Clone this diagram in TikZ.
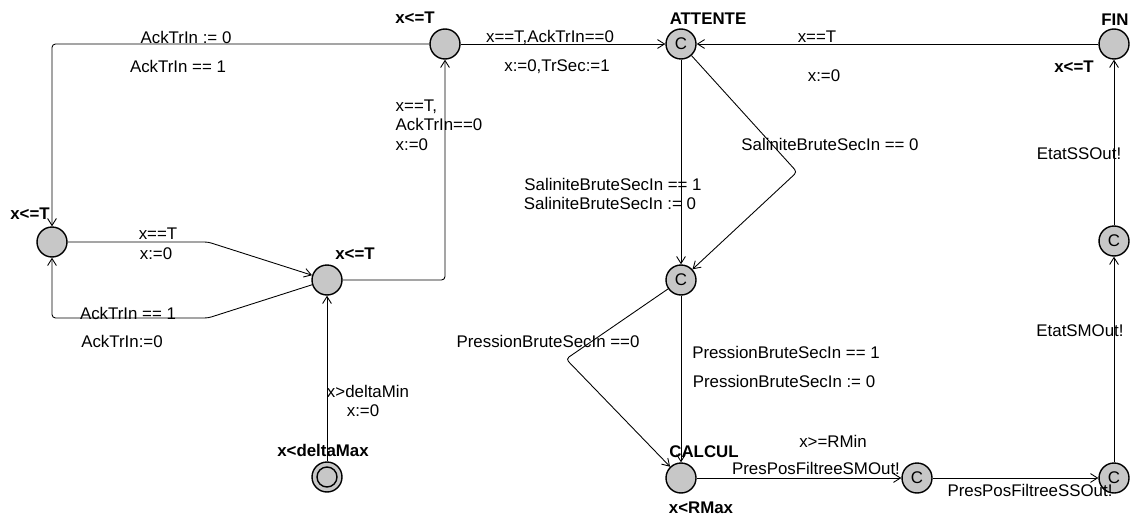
\documentclass[tikz,border=0pt]{standalone}
\usepackage{fontspec}
\setmainfont{Liberation Sans}
\usepackage{xcolor}
\usepackage{tikz}
\usetikzlibrary{arrows.meta}

\begin{document}
\begin{tikzpicture}[x=0.02cm, y=-0.02cm,
    every node/.style={font=\fontsize{9.6}{11}\selectfont},
    loc/.style={circle, draw, line width=0.8pt, fill=black!22, minimum size=0.6cm, inner sep=0pt},
    tag/.style={font=\bfseries\fontsize{9.6}{11}\selectfont},
    edge/.style={-{Straight Barb[length=4pt,width=5pt]}, rounded corners=2pt, line width=0.5pt}]
    \useasboundingbox (0,0) rectangle (1131,517);

    % Locations
    \node[loc] (top) at (445,44) {};
    \node[loc] (lft) at (52,242) {};
    \node[loc] (mid) at (327,280) {};
    \node[loc] (init) at (327,477) {};
    \node[circle, draw, line width=0.8pt, minimum size=0.4cm, inner sep=0pt] (initin) at (init) {};
    \node[loc] (attente) at (681,44) {C};
    \node[loc] (fin) at (1114,44) {};
    \node[loc] (sal) at (681,280) {C};
    \node[loc] (calcul) at (681,478) {};
    \node[loc] (sm) at (917,478) {C};
    \node[loc] (ss) at (1114,478) {C};
    \node[loc] (etat) at (1114,241) {C};

    % Names and invariants
    \node[tag] (invtop) at (415,18) {x<=T};
    \node[tag] (invlft) at (30,214) {x<=T};
    \node[tag] (invmid) at (355,254) {x<=T};
    \node[tag] (invinit) at (323,450) {x<deltaMax};
    \node[tag] (nattente) at (708,19) {ATTENTE};
    \node[tag] (nfin) at (1115,20) {FIN};
    \node[tag] (invfin) at (1074,67) {x<=T};
    \node[tag] (ncalcul) at (704,452) {CALCUL};
    \node[tag] (invcalcul) at (701,508) {x<RMax};

    % Bends
    \coordinate (bnd1) at (208,242);
    \coordinate (bnd2) at (208,318);
    \coordinate (bnd3) at (797,172);
    \coordinate (bnd4) at (566,359);

    % Edges
    \draw[edge] (top) -| (lft);
    \draw[edge] (lft) -- (bnd1) -- (mid);
    \draw[edge] (mid) -- (bnd2) -| (lft);
    \draw[edge] (mid) -| (top);
    \draw[edge] (init) -- (mid);
    \draw[edge] (top) -- (attente);
    \draw[edge] (fin) -- (attente);
    \draw[edge] (attente) -- (sal);
    \draw[edge] (attente) -- (bnd3) -- (sal);
    \draw[edge] (sal) -- (calcul);
    \draw[edge] (sal) -- (bnd4) -- (calcul);
    \draw[edge] (calcul) -- (sm);
    \draw[edge] (sm) -- (ss);
    \draw[edge] (ss) -- (etat);
    \draw[edge] (etat) -- (fin);

    % Guards, updates, syncs
    \node (g1) at (186,37) {AckTrIn := 0};
    \node (g2) at (178,66) {AckTrIn == 1};
    \node (g3) at (158,234) {x==T};
    \node (g4) at (156,254) {x:=0};
    \node (g5) at (128,313) {AckTrIn == 1};
    \node (g6) at (122,341) {AckTrIn:=0};
    \node[align=left, inner sep=0pt] (g7) at (439,125) {x==T,\\AckTrIn==0\\x:=0};
    \node (g8) at (368,391) {x>deltaMin};
    \node (g9) at (363,411) {x:=0};
    \node (g10) at (550,37) {x==T,AckTrIn==0};
    \node (g11) at (557,67) {x:=0,TrSec:=1};
    \node (g12) at (817,37) {x==T};
    \node (g13) at (824,76) {x:=0};
    \node (g14) at (613,184) {SaliniteBruteSecIn == 1};
    \node (g15) at (610,203) {SaliniteBruteSecIn := 0};
    \node (g16) at (830,144) {SaliniteBruteSecIn == 0};
    \node (g17) at (548,341) {PressionBruteSecIn ==0};
    \node (g18) at (786,352) {PressionBruteSecIn == 1};
    \node (g19) at (784,381) {PressionBruteSecIn := 0};
    \node (g20) at (833,441) {x>=RMin};
    \node (g21) at (816,468) {PresPosFiltreeSMOut!};
    \node (g22) at (1030,490) {PresPosFiltreeSSOut!};
    \node (g23) at (1080,331) {EtatSMOut!};
    \node (g24) at (1079,154) {EtatSSOut!};
\end{tikzpicture}
\end{document}
